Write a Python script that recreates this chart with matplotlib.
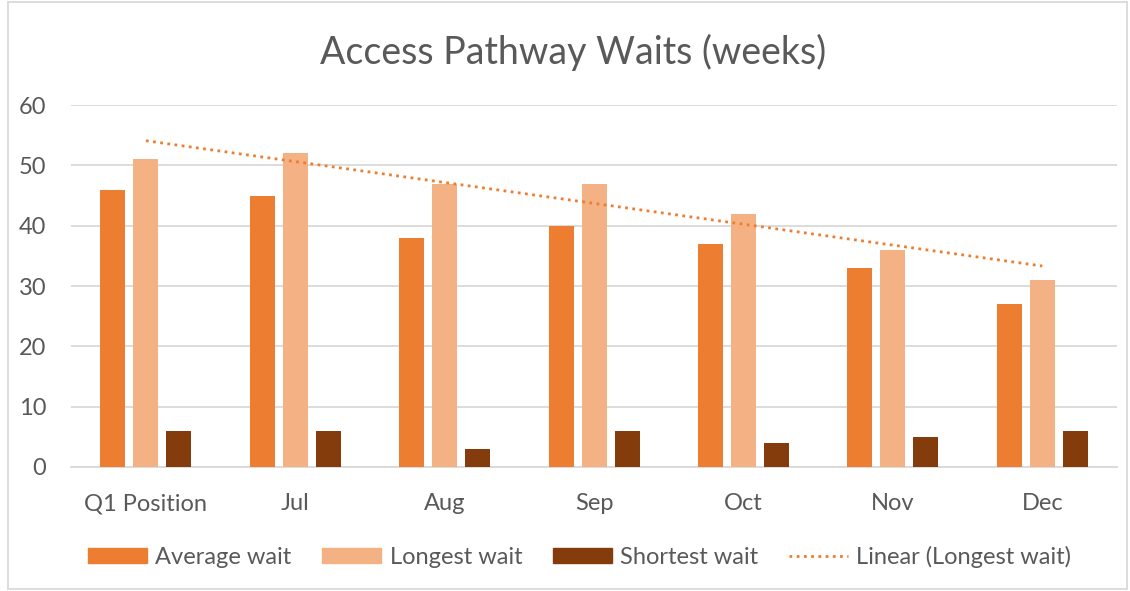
import numpy as np
import matplotlib
matplotlib.use("Agg")
import matplotlib.pyplot as plt
import matplotlib.patches as mpatches
from matplotlib.lines import Line2D

categories = ["Q1 Position", "Jul", "Aug", "Sep", "Oct", "Nov", "Dec"]
average_wait = [46, 45, 38, 40, 37, 33, 27]
longest_wait = [51, 52, 47, 47, 42, 36, 31]
shortest_wait = [6, 6, 3, 6, 4, 5, 6]

c_avg = "#ED7D31"
c_long = "#F4B183"
c_short = "#843C0C"
txt = "#595959"

plt.rcParams["font.family"] = ["Lato", "DejaVu Sans"]

fig = plt.figure(figsize=(11.30, 5.91), dpi=100)
ax = fig.add_axes([0.063, 0.21, 0.9255, 0.612])

x = np.arange(len(categories))
w = 0.167
off = 0.221
ax.bar(x - off, average_wait, w, color=c_avg, zorder=3)
ax.bar(x, longest_wait, w, color=c_long, zorder=3)
ax.bar(x + off, shortest_wait, w, color=c_short, zorder=3)

# linear trendline on longest wait, like excel
k, b = np.polyfit(x, longest_wait, 1)
ax.plot(x, k * x + b, color=c_avg, linestyle=(0, (1, 1.6)), linewidth=2, zorder=4)

ax.set_xlim(-0.5, len(categories) - 0.5)
ax.set_ylim(0, 60)
ax.set_yticks(range(0, 61, 10))
ax.set_xticks(x)
ax.set_xticklabels(categories)
ax.yaxis.grid(True, color="#D9D9D9", linewidth=1.3, zorder=0)
ax.set_axisbelow(True)
for s in ["top", "right", "left"]:
    ax.spines[s].set_visible(False)
ax.spines["bottom"].set_color("#D9D9D9")
ax.spines["bottom"].set_linewidth(1.3)
ax.tick_params(axis="both", length=0, labelsize=17, labelcolor=txt)
ax.tick_params(axis="x", pad=19)
ax.tick_params(axis="y", pad=18)

fig.text(0.507, 0.912, "Access Pathway Waits (weeks)", ha="center", va="center",
         fontsize=27, color=txt)

handles = [
    mpatches.Patch(color=c_avg, label="Average wait"),
    mpatches.Patch(color=c_long, label="Longest wait"),
    mpatches.Patch(color=c_short, label="Shortest wait"),
    Line2D([], [], color=c_avg, linestyle=(0, (1, 1.6)), linewidth=2, label="Linear (Longest wait)"),
]
fig.legend(handles=handles, loc="center", bbox_to_anchor=(0.513, 0.058), ncol=4,
           frameon=False, fontsize=17, labelcolor=txt, handlelength=2.5,
           handleheight=0.65, handletextpad=0.35, columnspacing=1.3)

# chart area border
fig.patches.append(mpatches.Rectangle((0.007, 0.003), 0.99, 0.994, transform=fig.transFigure,
                                      fill=False, edgecolor="#D9D9D9", linewidth=1.3))

fig.savefig("out.png", dpi=100)
